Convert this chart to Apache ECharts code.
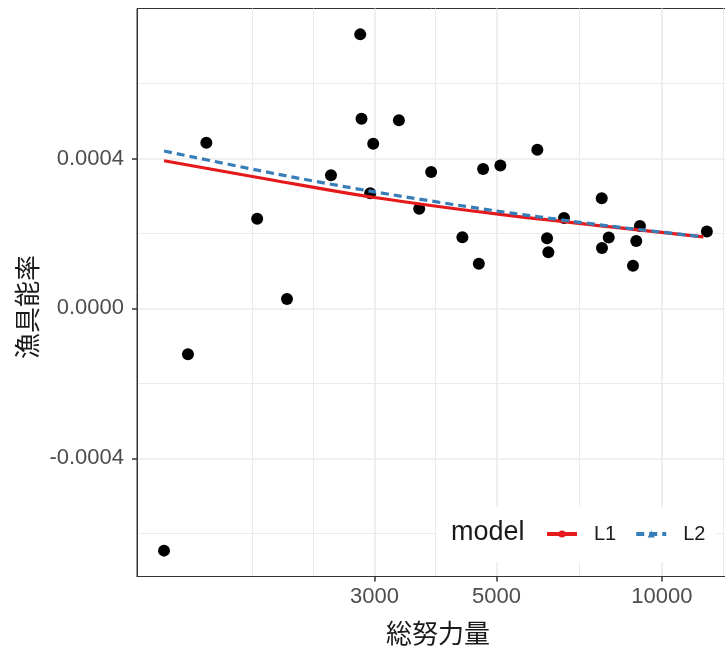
<!DOCTYPE html>
<html><head><meta charset="utf-8">
<script src="https://cdn.jsdelivr.net/npm/echarts@6/dist/echarts.min.js"></script>
<style>html,body{margin:0;padding:0;background:#fff}#c{width:725px;height:651px}</style>
</head><body><div id="c"></div>
<script>
// observed points (総努力量, 漁具能率)
var effort = [1242,1373,1483,1835,2079,2500,2826,2841,2946,2984,3323,3618,3804,4336,4645,4729,5084,5936,6182,6216,6637,7774,7783,8005,8985,9124,8862,12078];
var efficiency = [-0.000646,-0.000122,0.000442,0.000239,0.0000253,0.000355,0.000731,0.000506,0.000307,0.000439,0.000502,0.000266,0.000364,0.000190,0.000119,0.000372,0.000381,0.000423,0.000187,0.000150,0.000241,0.000294,0.000161,0.000189,0.000180,0.000220,0.000114,0.000205];
// fitted model curves
var lineX = [1242,2000,3000,5000,8000,11900];
var L1 = [0.000394,0.000340,0.000296,0.000252,0.000218,0.000191];
var L2 = [0.000420,0.000358,0.000311,0.000260,0.000220,0.000191];
// axis ticks
var xTicks = [3000,5000,10000];
var xMinor = [1799,2323,3873,7071,12910];
var yTicks = [-0.0004,0,0.0004];
var yMinor = [-0.0006,-0.0002,0.0002,0.0006];

var X_MIN = 1109, X_MAX = 13532, Y_MIN = -0.000715, Y_MAX = 0.0008;
var latin = "'Liberation Sans', Arial, sans-serif";
var cjk = "'Noto Sans CJK JP', sans-serif";

function zip(a,b){ return a.map(function(v,i){ return [v,b[i]]; }); }

var chart = echarts.init(document.getElementById('c'), null, {renderer:'canvas'});
chart.setOption({
  animation:false,
  backgroundColor:'#fff',
  grid:{left:137, top:8.5, width:597, height:568, show:true, borderColor:'#333', borderWidth:1, backgroundColor:'transparent', containLabel:false, outerBoundsMode:'none'},
  xAxis:[
    {type:'log', logBase:10, min:X_MIN, max:X_MAX, position:'bottom',
     axisLine:{show:true, onZero:false, lineStyle:{color:'#333', width:1}},
     axisTick:{show:true, inside:false, customValues:xTicks, length:5, lineStyle:{color:'#333', width:1.5}},
     axisLabel:{customValues:xTicks, margin:9, color:'#4D4D4D', fontSize:22, fontFamily:latin, formatter:function(v){return String(Math.round(v));}},
     splitLine:{show:true, lineStyle:{color:'#EBEBEB', width:1.6}}},
    {type:'log', logBase:10, min:X_MIN, max:X_MAX, position:'bottom',
     axisLine:{show:false, onZero:false}, axisLabel:{show:false},
     axisTick:{show:false, customValues:xMinor},
     splitLine:{show:true, lineStyle:{color:'#EBEBEB', width:1}}}
  ],
  yAxis:[
    {type:'value', min:Y_MIN, max:Y_MAX, position:'left',
     axisLine:{show:true, onZero:false, lineStyle:{color:'#333', width:1}},
     axisTick:{show:true, inside:false, customValues:yTicks, length:5, lineStyle:{color:'#333', width:1.5}},
     axisLabel:{customValues:yTicks, margin:13, color:'#4D4D4D', fontSize:22, fontFamily:latin, formatter:function(v){return (Math.abs(v)<1e-12?0:v).toFixed(4);}},
     splitLine:{show:true, lineStyle:{color:'#EBEBEB', width:1.6}}},
    {type:'value', min:Y_MIN, max:Y_MAX, position:'left',
     axisLine:{show:false, onZero:false}, axisLabel:{show:false},
     axisTick:{show:false, customValues:yMinor},
     splitLine:{show:true, lineStyle:{color:'#EBEBEB', width:1}}}
  ],
  legend:{
    left:545, top:524, padding:0, orient:'horizontal', itemWidth:30, itemHeight:9, itemGap:18,
    data:['L1','L2'],
    lineStyle:{width:4},
    textStyle:{fontSize:20, fontFamily:latin, color:'#1a1a1a', padding:[0,0,0,12]},
    backgroundColor:'transparent'
  },
  graphic:[
    {type:'rect', z:1, shape:{x:437, y:507, width:280, height:55}, style:{fill:'#fff'}},
    {type:'text', z:5, x:451, y:533, style:{text:'model', font:'27px '+latin, fill:'#1a1a1a', textAlign:'left', textVerticalAlign:'middle'}},
    {type:'text', z:5, x:438, y:633, style:{text:'総努力量', font:'26px '+cjk, fill:'#1a1a1a', textAlign:'center', textVerticalAlign:'middle'}},
    {type:'text', z:5, x:27.5, y:307, rotation:Math.PI/2, style:{text:'漁具能率', font:'26px '+cjk, fill:'#1a1a1a', textAlign:'center', textVerticalAlign:'middle'}}
  ],
  series:[
    {name:'pts', type:'scatter', xAxisIndex:0, yAxisIndex:0, data:zip(effort,efficiency), symbolSize:12, itemStyle:{color:'#000', opacity:1}, z:3},
    {name:'L1', type:'line', xAxisIndex:0, yAxisIndex:0, data:zip(lineX,L1), smooth:0.3, showSymbol:false, symbol:'circle', symbolSize:6,
     itemStyle:{color:'#E41A1C'}, lineStyle:{color:'#E41A1C', width:3.2}, z:4},
    {name:'L2', type:'line', xAxisIndex:0, yAxisIndex:0, data:zip(lineX,L2), smooth:0.3, showSymbol:false, symbol:'triangle', symbolSize:8,
     itemStyle:{color:'#377EB8'}, lineStyle:{color:'#377EB8', width:3.2, type:[8,5]}, z:5}
  ]
});
</script></body></html>
